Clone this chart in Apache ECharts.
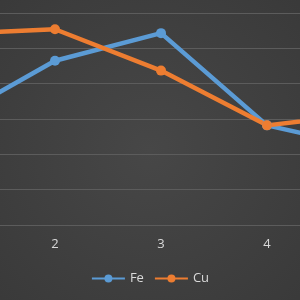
<!DOCTYPE html>
<html>
<head>
<meta charset="utf-8">
<script src="https://cdn.jsdelivr.net/npm/echarts@6/dist/echarts.min.js"></script>
<style>
  html, body { margin: 0; padding: 0; }
  #chart { width: 300px; height: 300px; }
</style>
</head>
<body>
<div id="chart"></div>
<script>
const categories = ['1', '2', '3', '4', '5'];
const feValues = [2.95, 4.65, 5.43, 2.82, 2.15];
const cuValues = [5.41, 5.54, 4.37, 2.82, 3.17];

const chart = echarts.init(document.getElementById('chart'));
chart.setOption({
  animation: false,
  backgroundColor: new echarts.graphic.RadialGradient(0.5, 0.5, 0.75, [
    { offset: 0, color: '#474747' },
    { offset: 1, color: '#393939' },
  ]),
  color: ['#5b9bd5', '#ed7d31'],
  grid: {
    left: -51,
    right: -73,
    top: 13,
    bottom: 75,
    containLabel: false,
    outerBoundsMode: 'none',
  },
  legend: {
    bottom: 10,
    left: 'center',
    itemWidth: 33,
    itemHeight: 10,
    itemGap: 10,
    textStyle: { color: '#d9d9d9', fontSize: 13, fontFamily: 'Open Sans' },
    data: ['Fe', 'Cu'],
  },
  xAxis: {
    type: 'category',
    boundaryGap: false,
    data: categories,
    axisLine: { lineStyle: { color: '#5c5c5c', width: 1 } },
    axisTick: { show: false },
    axisLabel: { color: '#d9d9d9', fontSize: 13, margin: 13, fontFamily: 'Open Sans' },
  },
  yAxis: {
    type: 'value',
    min: 0,
    max: 6,
    interval: 1,
    axisLine: { show: false },
    axisTick: { show: false },
    axisLabel: { show: false },
    splitLine: { lineStyle: { color: '#5c5c5c', width: 1 } },
  },
  series: [
    {
      name: 'Fe',
      type: 'line',
      data: feValues,
      symbol: 'circle',
      symbolSize: 10,
      lineStyle: { width: 4.5 },
    },
    {
      name: 'Cu',
      type: 'line',
      data: cuValues,
      symbol: 'circle',
      symbolSize: 10,
      lineStyle: { width: 4.5 },
    },
  ],
});
</script>
</body>
</html>
